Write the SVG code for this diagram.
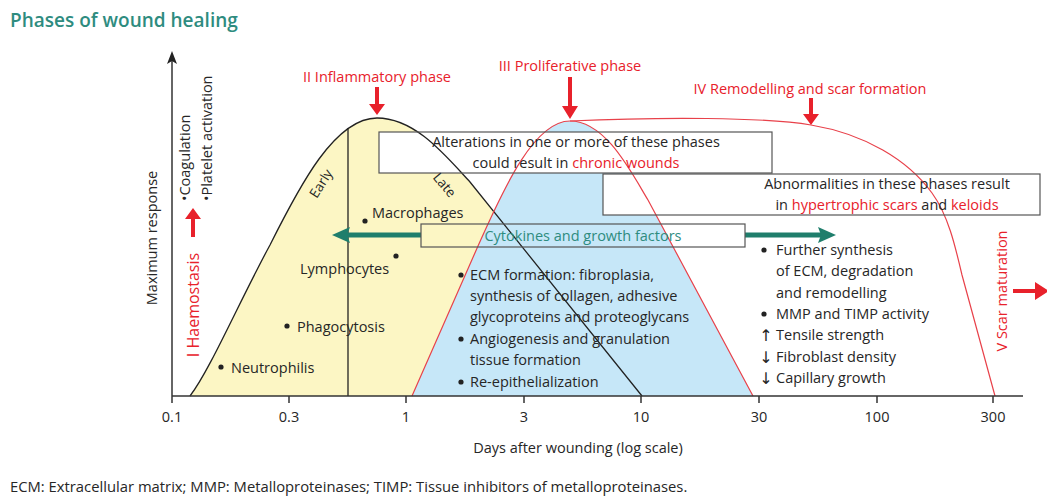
<svg xmlns="http://www.w3.org/2000/svg" width="1047" height="498" viewBox="0 0 1047 498">
<style>
text{font-family:"Open Sans","Liberation Sans","DejaVu Sans",sans-serif;fill:#262626;font-size:14.5px}
.red{fill:#e8212b}
.t{fill:#2e8c7f;font-size:19px;font-weight:600}
.box{fill:none;stroke:#555;stroke-width:1.2}
.wbox{fill:#fff;stroke:none}
.ra{fill:#e8212b}
.ga{fill:#1f7e6c}
.dot{fill:#222}
.arr{font-family:"DejaVu Sans",sans-serif;font-size:16px}
</style>
<rect width="1047" height="498" fill="#fff"/>
<text class="t" x="10" y="27">Phases of wound healing</text>

<g id="areas">
<path d="M190,396 C210,370 240,300 270,245 C300,185 335,118 377,118 C415,118 445,155 470,182 L642,396 Z" fill="#fcf6c4"/>
<path d="M412,396 L478,246 C505,185 535,121 570,121 C605,121 630,170 648,200 L753,396 Z" fill="#c6e7f8"/>
</g>

<g id="box-chronic-bg"><rect class="wbox" x="379" y="132" width="393" height="41"/></g>
<g id="box-abn-bg"><rect class="wbox" x="603" y="174" width="437" height="41"/></g>

<g id="connectors">
<path d="M190,396 C210,370 240,300 270,245 C300,185 335,118 377,118 C415,118 445,155 470,182 L642,396" fill="none" stroke="#222" stroke-width="1.3"/>
<line x1="348" y1="128" x2="348" y2="396" stroke="#222" stroke-width="1.3"/>
<path d="M412,396 L478,246 C505,185 535,121 570,121 C605,121 630,170 648,200 L753,396" fill="none" stroke="#e8414a" stroke-width="1.2"/>
<path d="M570,121 C660,117 765,117 811,125 C865,134 908,160 932,193 C948,215 955,245 962,275 L995,396" fill="none" stroke="#e8414a" stroke-width="1.2"/>
<line x1="172" y1="396" x2="1023" y2="396" stroke="#333" stroke-width="1.5"/>
<line x1="172" y1="403" x2="172" y2="60" stroke="#333" stroke-width="1.5"/>
<path d="M172,51 L167,64 L172,61 L177,64 Z" fill="#222"/>
<g stroke="#333" stroke-width="1.5">
<line x1="289" y1="396" x2="289" y2="403"/><line x1="406" y1="396" x2="406" y2="403"/>
<line x1="524" y1="396" x2="524" y2="403"/><line x1="641" y1="396" x2="641" y2="403"/>
<line x1="759" y1="396" x2="759" y2="403"/><line x1="877" y1="396" x2="877" y2="403"/>
<line x1="993" y1="396" x2="993" y2="403"/>
</g>
<line x1="345" y1="235" x2="421" y2="235" stroke="#1f7e6c" stroke-width="5"/>
<line x1="745" y1="235" x2="822" y2="235" stroke="#1f7e6c" stroke-width="5"/>
<path class="ga" d="M332,235 L350,227 L347,235 L350,243 Z"/>
<path class="ga" d="M836,235 L818,227 L821,235 L818,243 Z"/>
<path class="ra" d="M375,87 h4 v17 h6 l-8,11 l-8,-11 h6 Z"/>
<path class="ra" d="M568,77 h4 v29 h6 l-8,13 l-8,-13 h6 Z"/>
<path class="ra" d="M809,98 h4 v16 h6 l-8,11 l-8,-11 h6 Z"/>
<path class="ra" d="M191,237 h4 v-18 h6 l-8,-11 l-8,11 h6 Z"/>
<path class="ra" d="M1013,289 h22 v-7 l14,9 l-14,9 v-7 h-22 Z"/>
</g>

<g id="box-chronic">
<rect class="box" x="379" y="132" width="393" height="41"/>
<text x="576" y="147" text-anchor="middle">Alterations in one or more of these phases</text>
<text x="576" y="168" text-anchor="middle">could result in <tspan class="red">chronic wounds</tspan></text>
</g>
<g id="box-abn">
<rect class="box" x="603" y="174" width="437" height="41"/>
<text x="887" y="189" text-anchor="middle">Abnormalities in these phases result</text>
<text x="887" y="210" text-anchor="middle">in <tspan class="red">hypertrophic scars</tspan> and <tspan class="red">keloids</tspan></text>
</g>
<g id="box-cytokines">
<rect class="box" x="421" y="224" width="324" height="23"/>
<text x="583" y="241" text-anchor="middle" style="fill:#2e8c7f">Cytokines and growth factors</text>
</g>

<g id="phase-labels">
<text class="red" x="377" y="82" text-anchor="middle">II Inflammatory phase</text>
<text class="red" x="570" y="71" text-anchor="middle">III Proliferative phase</text>
<text class="red" x="810" y="94" text-anchor="middle">IV Remodelling and scar formation</text>
<text class="red" style="font-size:16px" transform="translate(199,305) rotate(-90)" text-anchor="middle">I Haemostasis</text>
<text class="red" transform="translate(1007,291) rotate(-90)" text-anchor="middle">V Scar maturation</text>
</g>

<g id="axis-labels">
<text transform="translate(157,238) rotate(-90)" text-anchor="middle">Maximum response</text>
<g text-anchor="middle" style="font-size:14px">
<text x="172" y="422">0.1</text><text x="289" y="422">0.3</text><text x="406" y="422">1</text>
<text x="524" y="422">3</text><text x="641" y="422">10</text><text x="759" y="422">30</text>
<text x="877" y="422">100</text><text x="993" y="422">300</text>
</g>
<text x="578" y="453" text-anchor="middle">Days after wounding (log scale)</text>
<text x="10" y="492" style="font-size:14.8px">ECM: Extracellular matrix; MMP: Metalloproteinases; TIMP: Tissue inhibitors of metalloproteinases.</text>
</g>

<g id="haemostasis-items">
<text transform="translate(190,201) rotate(-90)">•Coagulation</text>
<text transform="translate(212,201) rotate(-90)">•Platelet activation</text>
</g>

<g id="inflammatory-items">
<text transform="translate(325,186) rotate(-58)" text-anchor="middle" style="font-size:13.5px">Early</text>
<text transform="translate(441,188) rotate(50)" text-anchor="middle" style="font-size:13.5px">Late</text>
<circle class="dot" cx="365" cy="221" r="2.6"/><text x="372" y="218">Macrophages</text>
<circle class="dot" cx="396" cy="256" r="2.6"/><text x="300" y="274">Lymphocytes</text>
<circle class="dot" cx="287" cy="326" r="2.6"/><text x="297" y="332">Phagocytosis</text>
<circle class="dot" cx="221" cy="367" r="2.6"/><text x="231" y="373">Neutrophilis</text>
</g>

<g id="proliferative-items">
<circle class="dot" cx="461" cy="275" r="2.6"/>
<text x="470" y="280">ECM formation: fibroplasia,</text>
<text x="470" y="301">synthesis of collagen, adhesive</text>
<text x="470" y="322">glycoproteins and proteoglycans</text>
<circle class="dot" cx="461" cy="339" r="2.6"/>
<text x="470" y="344">Angiogenesis and granulation</text>
<text x="470" y="365">tissue formation</text>
<circle class="dot" cx="461" cy="382" r="2.6"/>
<text x="470" y="387">Re-epithelialization</text>
</g>

<g id="remodelling-items">
<circle class="dot" cx="764" cy="250" r="2.6"/>
<text x="776" y="255">Further synthesis</text>
<text x="776" y="276">of ECM, degradation</text>
<text x="776" y="298">and remodelling</text>
<circle class="dot" cx="764" cy="314" r="2.6"/>
<text x="776" y="319">MMP and TIMP activity</text>
<text class="arr" x="766" y="341" text-anchor="middle">↑</text><text x="776" y="340">Tensile strength</text>
<text class="arr" x="766" y="363" text-anchor="middle">↓</text><text x="776" y="362">Fibroblast density</text>
<text class="arr" x="766" y="384" text-anchor="middle">↓</text><text x="776" y="383">Capillary growth</text>
</g>
</svg>
